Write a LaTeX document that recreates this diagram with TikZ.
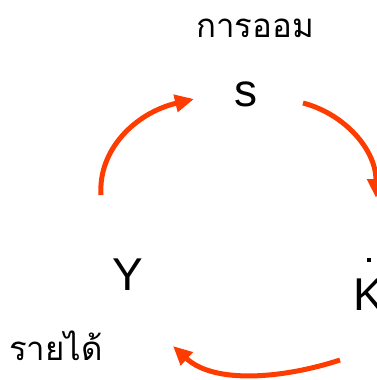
\documentclass[tikz,border=0pt]{standalone}
\usepackage{fontspec}
\setmainfont{Liberation Sans}
\newfontfamily\thaifont[Script=Thai]{Loma}
\usetikzlibrary{arrows.meta}
\definecolor{arrowred}{RGB}{255,60,0}
\tikzset{
  lbl/.style={inner sep=0pt, font=\fontsize{46}{50}\selectfont},
  thailbl/.style={inner sep=0pt, font=\thaifont\fontsize{33}{37}\selectfont},
  flow/.style={draw=arrowred, line width=5pt, -{Triangle[length=19pt,width=17pt]}}
}
\begin{document}
\begin{tikzpicture}[x=1pt,y=-1pt]
\useasboundingbox (0,0) rectangle (377,380);
\clip (0,0) rectangle (377,380);
\node[thailbl] (saving) at (255,28) {การออม};
\node[lbl, anchor=base] (s) at (246,106) {s};
\node[lbl, anchor=base] (Y) at (128,290) {Y};
\node[lbl, anchor=base west] (K) at (353,310) {K};
\fill ([xshift=-2pt,yshift=-2pt]369,260) rectangle ([xshift=2pt,yshift=2pt]369,260);
\node[thailbl] (income) at (56,346) {รายได้};
\coordinate (a1s) at (101,195);
\coordinate (a1e) at (194,99);
\coordinate (a2s) at (303,103);
\coordinate (a2e) at (376,198);
\coordinate (a3s) at (340,360);
\coordinate (a3e) at (173,346);
\draw[flow] (a1s) .. controls (98,150) and (135,113) .. (a1e);
\draw[flow] (a2s) .. controls (345,114) and (376,150) .. (a2e);
\draw[flow] (a3s) .. controls (285,378) and (215,385) .. (a3e);
\end{tikzpicture}
\end{document}
